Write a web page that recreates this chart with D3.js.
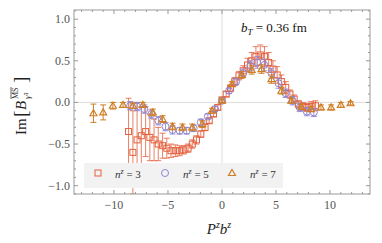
<!DOCTYPE html>
<html><head><meta charset="utf-8">
<script src="https://cdn.jsdelivr.net/npm/d3@7"></script>
<style>body{margin:0;background:#fff}svg{display:block}</style>
</head><body><svg id="c" width="382" height="243"></svg>
<script>
// ---- data ----
const n3X = [-8.65,-8.25,-7.86,-7.47,-7.07,-6.68,-6.29,-5.9,-5.5,-5.11,-4.72,-4.32,-3.93,-3.54,-3.14,-2.75,-2.36,-1.96,-1.57,-1.18,-0.79,-0.39,0,0.39,0.79,1.18,1.57,1.96,2.36,2.75,3.14,3.54,3.93,4.32,4.72,5.11,5.5,5.9,6.29,6.68,7.07,7.47,7.86,8.25,8.65];
const n3Y = [-0.35,-0.6,-0.45,-0.4,-0.35,-0.42,-0.45,-0.5,-0.52,-0.55,-0.58,-0.58,-0.58,-0.57,-0.55,-0.5,-0.45,-0.38,-0.3,-0.22,-0.14,-0.06,0.03,0.1,0.17,0.25,0.32,0.38,0.45,0.5,0.55,0.57,0.55,0.48,0.4,0.33,0.25,0.18,0.1,0.04,-0.02,-0.05,-0.06,-0.05,-0.04];
const n3E = [0.4,0.5,0.45,0.35,0.3,0.28,0.25,0.2,0.15,0.12,0.08,0.07,0.06,0.05,0.05,0.05,0.05,0.04,0.04,0.03,0.03,0.03,0.03,0.03,0.04,0.05,0.05,0.06,0.08,0.1,0.12,0.12,0.12,0.12,0.1,0.1,0.08,0.07,0.05,0.05,0.04,0.05,0.05,0.06,0.06];
const n5X = [-8.5,-7.85,-7.19,-6.54,-5.89,-5.23,-4.58,-3.92,-3.27,-2.62,-1.96,-1.31,-0.65,0,0.65,1.31,1.96,2.62,3.27,3.92,4.58,5.23,5.89,6.54,7.19,7.85,8.5];
const n5Y = [-0.04,-0.05,-0.08,-0.14,-0.22,-0.29,-0.33,-0.34,-0.34,-0.31,-0.24,-0.17,-0.08,0.02,0.14,0.25,0.35,0.44,0.48,0.45,0.35,0.23,0.11,0.02,-0.06,-0.11,-0.12];
const n5E = [0.05,0.05,0.05,0.05,0.05,0.05,0.05,0.04,0.04,0.04,0.04,0.03,0.03,0.02,0.03,0.04,0.05,0.06,0.07,0.07,0.06,0.06,0.05,0.05,0.05,0.05,0.05];
const n7X = [-11.9,-11.0,-10.1,-9.16,-8.24,-7.33,-6.41,-5.5,-4.58,-3.66,-2.75,-1.83,-0.92,0,0.92,1.83,2.75,3.66,4.58,5.5,6.41,7.33,8.24,9.16,10.1,11.0,11.9];
const n7Y = [-0.13,-0.12,-0.04,-0.03,-0.04,-0.03,-0.12,-0.2,-0.29,-0.3,-0.3,-0.26,-0.1,0.02,0.22,0.33,0.39,0.4,0.28,0.14,0.02,-0.05,-0.08,-0.06,-0.06,-0.03,-0.01];
const n7E = [0.11,0.09,0.04,0.03,0.03,0.03,0.04,0.04,0.04,0.04,0.04,0.04,0.03,0.02,0.03,0.04,0.05,0.05,0.05,0.04,0.03,0.03,0.03,0.03,0.03,0.03,0.02];
const xTicks = [-10,-5,0,5,10];
const yTicks = [-1.0,-0.5,0.0,0.5,1.0];
const seriesNz = ["3","5","7"];

const colors = {n3:"#e4603d", n5:"#8f86d3", n7:"#cf7e25"};

const svg = d3.select("#c");
const L=74, R=370, T=10, B=194;
const x = d3.scaleLinear().domain([-13.7,13.7]).range([L,R]);
const y = d3.scaleLinear().domain([-1.1,1.11]).range([B,T]);

// grid lines at 0
svg.append("line").attr("x1",x(0)).attr("x2",x(0)).attr("y1",T).attr("y2",B).attr("stroke","#ddd").attr("stroke-width",1);
svg.append("line").attr("x1",L).attr("x2",R).attr("y1",y(0)).attr("y2",y(0)).attr("stroke","#ddd").attr("stroke-width",1);

svg.append("defs").append("clipPath").attr("id","clip").append("rect").attr("x",L).attr("y",T).attr("width",R-L).attr("height",B-T);
const plot = svg.append("g").attr("clip-path","url(#clip)");

function drawSeries(X,Y,E,color,shape,op){
  const g = plot.append("g");
  const cap = 3;
  X.forEach((xv,i)=>{
    const cx=x(xv), y1=y(Y[i]+E[i]), y2=y(Y[i]-E[i]);
    g.append("line").attr("x1",cx).attr("x2",cx).attr("y1",y1).attr("y2",y2).attr("stroke",color).attr("stroke-opacity",op).attr("stroke-width",1);
    g.append("line").attr("x1",cx-cap).attr("x2",cx+cap).attr("y1",y1).attr("y2",y1).attr("stroke",color).attr("stroke-opacity",op).attr("stroke-width",1);
    g.append("line").attr("x1",cx-cap).attr("x2",cx+cap).attr("y1",y2).attr("y2",y2).attr("stroke",color).attr("stroke-opacity",op).attr("stroke-width",1);
    drawMarker(g,cx,y(Y[i]),shape,color);
  });
}
function drawMarker(g,cx,cy,shape,color){
  if(shape==="sq") g.append("rect").attr("x",cx-3).attr("y",cy-3).attr("width",6).attr("height",6).attr("fill","none").attr("stroke",color).attr("stroke-width",1);
  else if(shape==="ci") g.append("circle").attr("cx",cx).attr("cy",cy).attr("r",3.5).attr("fill","none").attr("stroke",color).attr("stroke-width",1);
  else g.append("path").attr("d",`M${cx},${cy-3.5}L${cx+3.5},${cy+2.5}L${cx-3.5},${cy+2.5}Z`).attr("fill","none").attr("stroke",color).attr("stroke-width",1.2);
}
drawSeries(n3X,n3Y,n3E,colors.n3,"sq",0.8);
drawSeries(n5X,n5Y,n5E,colors.n5,"ci",0.9);
drawSeries(n7X,n7Y,n7E,colors.n7,"tr",1);

// frame
svg.append("rect").attr("x",L).attr("y",T).attr("width",R-L).attr("height",B-T).attr("fill","none").attr("stroke","#999").attr("stroke-width",1);

// ticks (inward, all sides)
const tk = svg.append("g").attr("stroke","#999").attr("stroke-width",1);
d3.range(-13,14).forEach(v=>{
  const major = v%5===0, len = major?4:2;
  tk.append("line").attr("x1",x(v)).attr("x2",x(v)).attr("y1",B).attr("y2",B-len);
  tk.append("line").attr("x1",x(v)).attr("x2",x(v)).attr("y1",T).attr("y2",T+len);
});
d3.range(-11,12).forEach(i=>{
  const v=i/10, major = i%5===0, len = major?4:2;
  tk.append("line").attr("x1",L).attr("x2",L+len).attr("y1",y(v)).attr("y2",y(v));
  tk.append("line").attr("x1",R).attr("x2",R-len).attr("y1",y(v)).attr("y2",y(v));
});

const font = "'Liberation Serif','DejaVu Serif',serif";
xTicks.forEach(v=>{
  svg.append("text").attr("x",x(v)).attr("y",209).attr("text-anchor","middle").attr("font-family",font).attr("font-size",12).attr("fill","#555").text(v<0?"\u2212"+Math.abs(v):v);
});
yTicks.forEach(v=>{
  svg.append("text").attr("x",70).attr("y",y(v)+4).attr("text-anchor","end").attr("font-family",font).attr("font-size",12).attr("fill","#555").text((v<0?"\u2212":"")+Math.abs(v).toFixed(1));
});

// axis titles
const xt = svg.append("text").attr("x",219).attr("y",234).attr("text-anchor","middle").attr("font-family",font).attr("font-size",15).attr("fill","#222");
xt.append("tspan").attr("font-style","italic").text("P");
xt.append("tspan").attr("font-style","italic").attr("font-size",10).attr("dy",-6).text("z");
xt.append("tspan").attr("font-style","italic").attr("dy",6).text("b");
xt.append("tspan").attr("font-style","italic").attr("font-size",10).attr("dy",-6).text("z");

const yg = svg.append("g").attr("transform","translate(26,104) rotate(-90)").attr("font-family",font).attr("fill","#222");
yg.append("text").attr("x",-31).attr("y",0).attr("font-size",15).text("Im");
yg.append("text").attr("x",-13).attr("y",1).attr("font-size",19).text("[");
yg.append("text").attr("x",-6).attr("y",0).attr("font-size",15).attr("font-style","italic").text("B");
yg.append("text").attr("x",5).attr("y",-8).attr("font-size",8).text("MS");
yg.append("line").attr("x1",5).attr("x2",17).attr("y1",-15).attr("y2",-15).attr("stroke","#222").attr("stroke-width",0.7);
yg.append("text").attr("x",5).attr("y",4).attr("font-size",9).attr("font-style","italic").text("\u03B3\u00B3");
yg.append("text").attr("x",21).attr("y",1).attr("font-size",19).text("]");

// annotation
const an = svg.append("text").attr("x",241).attr("y",32).attr("font-family",font).attr("font-size",13).attr("fill","#111");
an.append("tspan").attr("font-style","italic").text("b");
an.append("tspan").attr("font-style","italic").attr("font-size",9).attr("dy",3).text("T");
an.append("tspan").attr("dy",-3).text(" = 0.36 fm");

// legend
const lg = svg.append("g");
lg.append("rect").attr("x",84).attr("y",163).attr("width",199).attr("height",25).attr("fill","#f2f2f2");
const legItems = [
  {mx:98, tx:115, shape:"sq", color:colors.n3, nz:seriesNz[0]},
  {mx:165, tx:183, shape:"ci", color:colors.n5, nz:seriesNz[1]},
  {mx:232, tx:250, shape:"tr", color:colors.n7, nz:seriesNz[2]}
];
legItems.forEach(d=>{
  drawMarker(lg,d.mx,173,d.shape,d.color);
  const t = lg.append("text").attr("x",d.tx).attr("y",178).attr("font-family",font).attr("font-size",11).attr("fill","#333");
  t.append("tspan").attr("font-style","italic").text("n");
  t.append("tspan").attr("font-style","italic").attr("font-size",8).attr("dy",-4).text("z");
  t.append("tspan").attr("dy",4).text(" = "+d.nz);
});
</script></body></html>
